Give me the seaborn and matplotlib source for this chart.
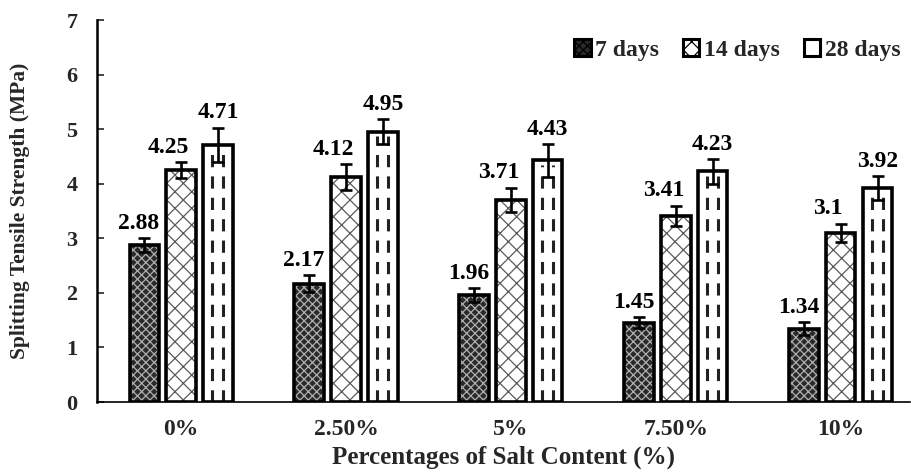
import numpy as np
import pandas as pd
import matplotlib
matplotlib.use("Agg")
import matplotlib.pyplot as plt
from matplotlib.patches import Rectangle, Patch
import seaborn as sns

categories = ["0%", "2.50%", "5%", "7.50%", "10%"]
ages = ["7 days", "14 days", "28 days"]
strength_7 = [2.88, 2.17, 1.96, 1.45, 1.34]
strength_14 = [4.25, 4.12, 3.71, 3.41, 3.10]
strength_28 = [4.71, 4.95, 4.43, 4.23, 3.92]
err_7 = [0.13, 0.16, 0.12, 0.10, 0.12]
err_14 = [0.14, 0.24, 0.22, 0.19, 0.17]
err_28 = [0.32, 0.23, 0.30, 0.23, 0.22]

values = [strength_7, strength_14, strength_28]
errors = [err_7, err_14, err_28]

df = pd.DataFrame({
    "Salt": np.repeat([categories], 3, axis=0).ravel(),
    "Age": np.repeat(ages, len(categories)),
    "Strength": np.concatenate(values),
})

sns.set_theme(style="ticks")
plt.rcParams["font.family"] = ["Liberation Serif", "DejaVu Serif"]
plt.rcParams["font.weight"] = "bold"
plt.rcParams["hatch.linewidth"] = 0.9

fig = plt.figure(figsize=(9.12, 4.72), dpi=100)
ax = fig.add_axes([97 / 912, 1 - 402 / 472, (910 - 97) / 912, (402 - 20) / 472])

sns.barplot(data=df, x="Salt", y="Strength", hue="Age", order=categories,
            hue_order=ages, width=0.67, gap=0.2, legend=False, ax=ax,
            errorbar=None)

styles = [
    dict(face="#2a2a2a", hatch="xxxx", hcolor="#b0b0b0"),
    dict(face="white", hatch="xx", hcolor="#5a5a5a"),
    dict(face="white", hatch=None, hcolor="white"),
]
label_dx = [-4, -9, 0]

bar_containers = list(ax.containers)[:3]
for i, cont in enumerate(bar_containers):
    st = styles[i]
    for j, bar in enumerate(cont):
        bar.set_facecolor(st["face"])
        bar.set_edgecolor(st["hcolor"])
        bar.set_linewidth(0)
        if st["hatch"]:
            bar.set_hatch(st["hatch"])
        x0, w, h = bar.get_x(), bar.get_width(), bar.get_height()
        if i == 2:
            for f in (0.3, 0.68):
                ax.plot([x0 + f * w] * 2, [0, h - 0.08], color="#222222",
                        lw=2.2, ls=(0, (4, 3)), zorder=3)
        ax.add_patch(Rectangle((x0, 0), w, h, fill=False, edgecolor="black",
                               linewidth=2.6, zorder=4))
        cx = x0 + w / 2
        v = values[i][j]
        e = errors[i][j]
        ax.errorbar(cx, v, yerr=e, fmt="none", ecolor="black", elinewidth=1.9,
                    capsize=4, capthick=1.9, zorder=5)
        ax.annotate(f"{v:g}", xy=(cx, v + e), xytext=(label_dx[i], 10.5),
                    textcoords="offset points", ha="center", va="center",
                    fontsize=17, fontweight="bold", color="black")

ax.set_xlim(-0.51, 4.42)
ax.set_ylim(0, 7)
ax.set_yticks(range(0, 8))
ax.tick_params(axis="y", direction="in", length=5, width=1.2, labelsize=16, pad=14)
ax.tick_params(axis="x", length=0, labelsize=17, pad=12)
for lab in ax.get_xticklabels() + ax.get_yticklabels():
    lab.set_fontweight("bold")
ax.set_xlabel("Percentages of Salt Content (%)", fontsize=18, fontweight="bold", labelpad=4)
ax.set_ylabel("Splitting Tensile Strength (MPa)", fontsize=15.5, fontweight="bold", labelpad=26)
sns.despine(ax=ax)
ax.spines["left"].set_linewidth(1.8)
ax.spines["bottom"].set_linewidth(1.2)
ax.spines["left"].set_color("black")
ax.spines["bottom"].set_color("black")

handles = []
for st in styles:
    handles.append(Patch(facecolor=st["face"], edgecolor="black", linewidth=2.2,
                         hatch=st["hatch"] if st["hatch"] else None))
leg = ax.legend(handles, ages, loc="upper right", bbox_to_anchor=(1.0, 0.975),
                ncol=3, frameon=False, handlelength=0.7, handleheight=0.7,
                handletextpad=0.2, columnspacing=1.0, borderaxespad=0,
                prop={"size": 17, "weight": "bold"})

fig.savefig("out.png", dpi=100)
